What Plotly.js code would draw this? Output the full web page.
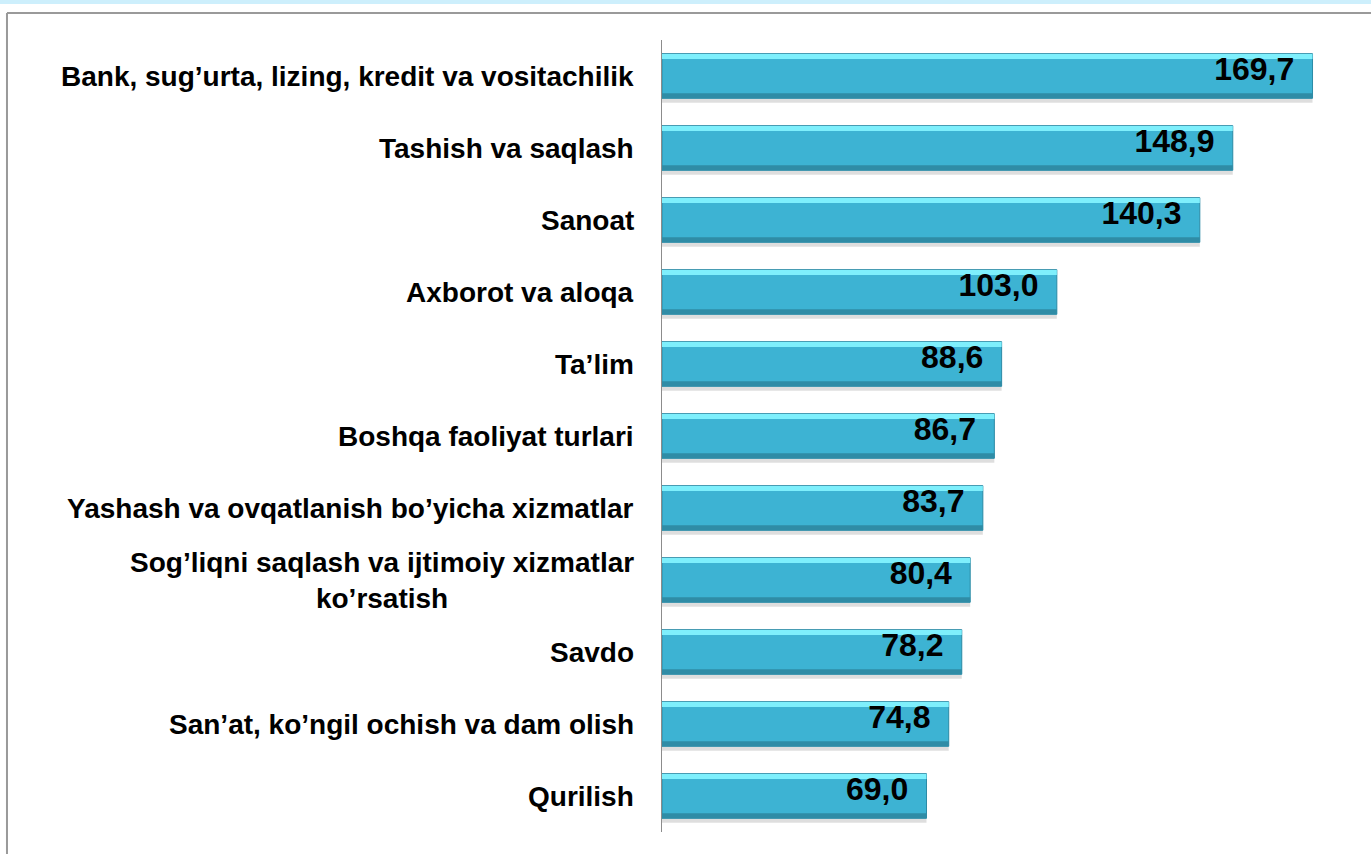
<!DOCTYPE html>
<html>
<head>
<meta charset="utf-8">
<script src="https://cdn.plot.ly/plotly-3.0.1.min.js"></script>
<style>
html,body{margin:0;padding:0;background:#fff;}
#chart{width:1371px;height:854px;}
</style>
</head>
<body>
<div id="chart"></div>
<script>
const categories = [
  "Bank, sug’urta, lizing, kredit va vositachilik",
  "Tashish va saqlash",
  "Sanoat",
  "Axborot va aloqa",
  "Ta’lim",
  "Boshqa faoliyat turlari",
  "Yashash va ovqatlanish bo’yicha xizmatlar",
  "Sog’liqni saqlash va ijtimoiy xizmatlar<br>ko’rsatish",
  "Savdo",
  "San’at, ko’ngil ochish va dam olish",
  "Qurilish"
];
const values = [169.7, 148.9, 140.3, 103.0, 88.6, 86.7, 83.7, 80.4, 78.2, 74.8, 69.0];

const ids = categories.map((c, i) => "c" + i);
const FONT = "Liberation Sans, Arial, sans-serif";

function band(offset, width, color, extra) {
  return Object.assign({
    type: "bar", orientation: "h", y: ids, x: values,
    offset: offset, width: width,
    marker: {color: color, line: {width: 0}},
    hoverinfo: "skip"
  }, extra || {});
}

const traces = [
  // soft shadow
  band(-0.27, 0.64, "rgba(0,0,0,0.13)"),
  // main body
  band(-0.31, 0.62, "#3db3d3", {marker: {color: "#3db3d3", line: {color: "#2c8ba6", width: 1}}}),
  // top highlight
  band(-0.305, 0.07, "#7eeffc"),
  // bottom darker edge
  band(0.24, 0.065, "#2f8ca6"),
  // value labels
  band(-0.38, 0.56, "rgba(0,0,0,0)", {
    text: values.map(v => v.toFixed(1).replace(".", ",") + "\u00a0\u2009"),
    textposition: "inside",
    insidetextanchor: "end",
    constraintext: "none",
    textfont: {family: FONT, size: 32, color: "#000", weight: "bold"}
  })
];

const annotations = categories.map((c, i) => ({
  xref: "paper", yref: "y",
  x: 0, y: ids[i],
  xanchor: "right", yanchor: "middle",
  xshift: -26,
  align: "center",
  showarrow: false,
  text: "<b>" + c + "</b>",
  font: {family: FONT, size: 28, color: "#000"}
}));

const layout = {
  width: 1371, height: 854,
  margin: {l: 662, r: 19, t: 40, b: 22},
  paper_bgcolor: "#fff", plot_bgcolor: "#fff",
  separators: ",.",
  showlegend: false,
  barmode: "overlay",
  xaxis: {range: [0, 180], visible: false, fixedrange: true},
  yaxis: {
    type: "category", autorange: "reversed",
    showticklabels: false, ticks: "", showgrid: false, zeroline: false,
    showline: true, linecolor: "#8c8c8c", linewidth: 1.2, fixedrange: true
  },
  annotations: annotations,
  shapes: [
    {type: "rect", xref: "paper", yref: "paper", x0: -0.96, x1: 1.03, y0: 1.0455, y1: 1.052,
     fillcolor: "#cdeffc", line: {width: 0}, layer: "below"},
    {type: "line", xref: "paper", yref: "paper", x0: -0.9493, x1: 1.03, y0: 1.0341, y1: 1.0341,
     line: {color: "#9a9a9a", width: 2}},
    {type: "line", xref: "paper", yref: "paper", x0: -0.9493, x1: -0.9493, y0: 1.0341, y1: -0.05,
     line: {color: "#9a9a9a", width: 2}}
  ]
};

Plotly.newPlot("chart", traces, layout, {displayModeBar: false, staticPlot: true});
</script>
</body>
</html>
